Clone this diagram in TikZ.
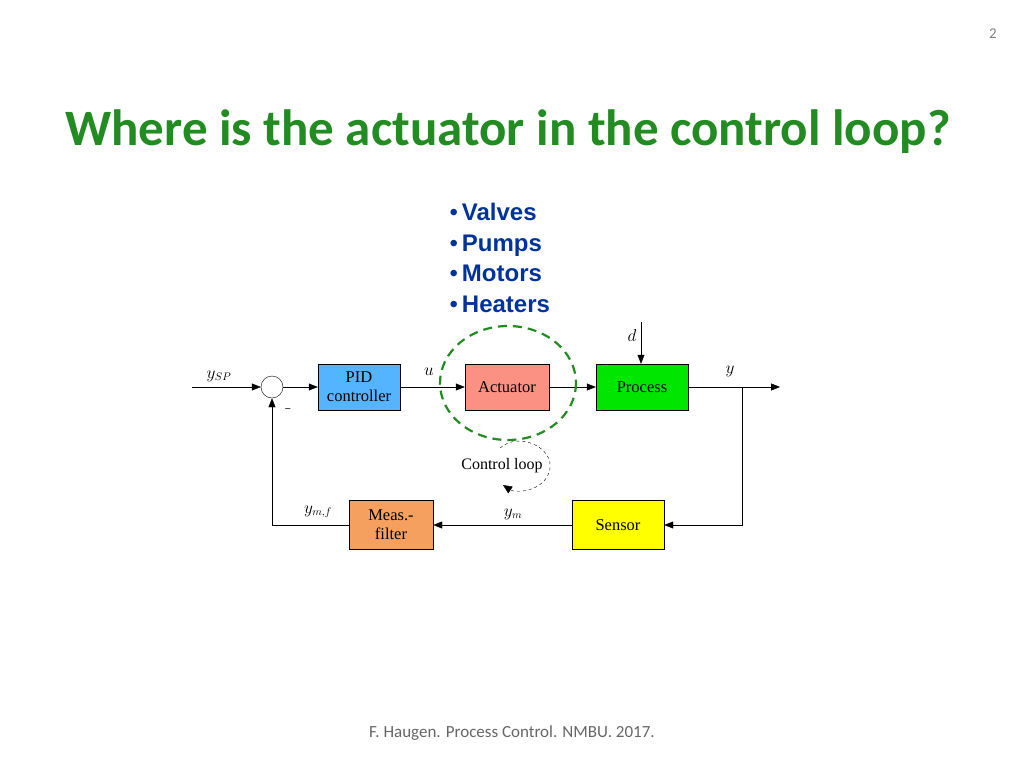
\documentclass[tikz,border=0pt]{standalone}
\usepackage{fontspec}
\setmainfont{Liberation Serif}
\newfontfamily\carl{Carlito}
\newfontfamily\arialf{Liberation Sans}
\usetikzlibrary{arrows.meta}
\definecolor{tgreen}{RGB}{34,139,34}
\definecolor{bblue}{RGB}{0,51,153}
\definecolor{pidc}{RGB}{85,180,255}
\definecolor{actc}{RGB}{250,145,130}
\definecolor{proc}{RGB}{0,230,0}
\definecolor{sens}{RGB}{255,255,0}
\definecolor{filt}{RGB}{245,160,95}
\begin{document}
\begin{tikzpicture}[x=1pt,y=-1pt,
  blk/.style={draw,minimum width=#1,minimum height=46pt,inner sep=0pt,align=center,font=\fontsize{16.5}{19}\selectfont},
  sig/.style={-{Triangle[length=9pt,width=7pt]}},
  lbl/.style={font=\fontsize{16}{18}\selectfont\itshape}]
\useasboundingbox (0,0) rectangle (1024,768);
\node[font=\carl\fontsize{15}{17}\selectfont,text=gray] at (993,34) {2};
\node[font=\carl\bfseries\fontsize{51}{60}\selectfont,text=tgreen] (title) at (508,132) {Where is the actuator in the control loop?};
\foreach \t/\yy in {Valves/212,Pumps/243,Motors/273,Heaters/304}
  \node[anchor=base west,font=\arialf\fontsize{24}{26}\selectfont,text=bblue] at (446,\yy+8) {\textbullet\,\textbf{\t}};
\node[font=\carl\fontsize{17}{20}\selectfont,text=gray!80!black] (foot) at (512,733) {F. Haugen. Process Control. NMBU. 2017.};
\coordinate (in) at (192,387);
\node[draw,circle,minimum size=22pt,inner sep=0pt] (sum) at (272,387) {};
\node[blk=82pt,fill=pidc] (pid) at (359,387) {PID\\controller};
\node[blk=84pt,fill=actc] (act) at (507,387) {Actuator};
\node[blk=92pt,fill=proc] (pr) at (642,387) {Process};
\node[blk=92pt,minimum height=49pt,fill=sens] (sen) at (618,525) {Sensor};
\node[blk=84pt,minimum height=49pt,fill=filt] (fil) at (391,525) {Meas.-\\filter};
\coordinate (out) at (780,387);
\coordinate (br) at (742,387);
\coordinate (dd) at (641,322);
\draw[sig] (in) -- (sum);
\draw[sig] (sum) -- (pid);
\draw[sig] (pid) -- (act);
\draw[sig] (act) -- (pr);
\draw[sig] (pr) -- (out);
\draw[sig] (dd) -- (pr.north -| dd);
\draw[sig] (br) |- (sen);
\draw[sig] (sen) -- (fil);
\draw[sig] (fil) -| (sum);
\node[lbl] at (219,376) {$y_{SP}$};
\node[lbl] at (429,372) {$u$};
\node[lbl] at (730,371) {$y$};
\node[lbl] at (632,335) {$d$};
\node[lbl] at (318,512) {$y_{m,f}$};
\node[lbl] at (513,514) {$y_m$};
\node at (288,410) {\textbf{--}};
\draw[tgreen,line width=2.2pt,dash pattern=on 9pt off 6pt] (508,383) ellipse [x radius=68, y radius=57];
\node[font=\fontsize{16}{18}\selectfont] (cl) at (502,466) {Control loop};
\draw[dashed,black,-{Triangle[length=9pt,width=8pt]}] (500,448) .. controls (520,430) and (560,450) .. (548,475) .. controls (540,492) and (515,493) .. (503,485);
\end{tikzpicture}
\end{document}
